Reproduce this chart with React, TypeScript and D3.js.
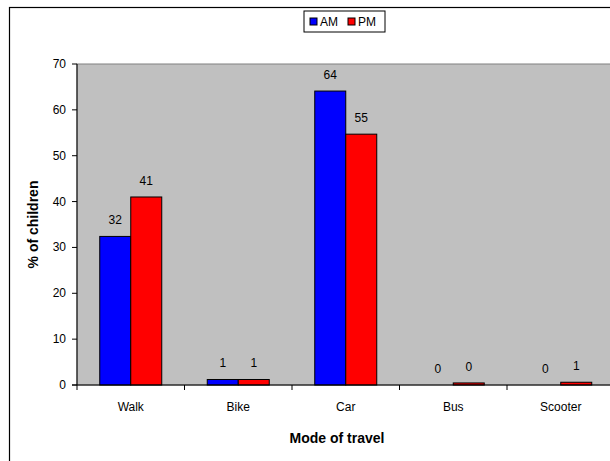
import React from "react";
import * as d3 from "d3";

const WIDTH = 610;
const HEIGHT = 461;

const categories = ["Walk", "Bike", "Car", "Bus", "Scooter"];
const seriesNames = ["AM", "PM"];
const amValues = [32.4, 1.2, 64.1, 0, 0];
const pmValues = [41.0, 1.2, 54.7, 0.45, 0.6];
const yTicks = [0, 10, 20, 30, 40, 50, 60, 70];

const COLORS = ["#0000FF", "#FF0000"];
const FONT = "'Liberation Sans', Arial, sans-serif";

const PLOT_LEFT = 77;
const PLOT_TOP = 64;
const PLOT_BOTTOM = 385;
const CAT_WIDTH = 107.5;
const BAR_WIDTH = 31;

export default function App() {
  const x = d3
    .scaleBand<string>()
    .domain(categories)
    .range([PLOT_LEFT, PLOT_LEFT + CAT_WIDTH * categories.length])
    .padding(0);

  const groupPad = (CAT_WIDTH - BAR_WIDTH * 2) / 2;
  const xInner = d3
    .scaleBand<string>()
    .domain(seriesNames)
    .range([groupPad, CAT_WIDTH - groupPad]);

  const y = d3.scaleLinear().domain([0, 70]).range([PLOT_BOTTOM, PLOT_TOP]);

  const series = [amValues, pmValues];
  const plotRight = PLOT_LEFT + CAT_WIDTH * categories.length;

  return (
    <svg
      width={WIDTH}
      height={HEIGHT}
      style={{ position: "absolute", left: 0, top: 0, background: "#fff" }}
      fontFamily={FONT}
    >
      {/* chart frame, cropped on the right and bottom */}
      <rect x={9.5} y={7.5} width={700} height={600} fill="#fff" stroke="#000" strokeWidth={1.2} />

      {/* plot area */}
      <rect
        x={PLOT_LEFT}
        y={PLOT_TOP}
        width={plotRight - PLOT_LEFT}
        height={PLOT_BOTTOM - PLOT_TOP}
        fill="#C0C0C0"
        stroke="#808080"
        strokeWidth={1}
      />

      {/* bars */}
      {categories.map((c, i) => (
        <g key={c} transform={`translate(${x(c)},0)`}>
          {series.map((vals, s) => {
            const v = vals[i];
            const bx = xInner(seriesNames[s])!;
            const top = y(v);
            return (
              <g key={s}>
                {v > 0 && (
                  <rect
                    x={bx}
                    y={top}
                    width={xInner.bandwidth()}
                    height={PLOT_BOTTOM - top}
                    fill={COLORS[s]}
                    stroke="#000"
                    strokeWidth={1}
                  />
                )}
                <text
                  x={bx + xInner.bandwidth() / 2}
                  y={top - 12}
                  textAnchor="middle"
                  fontSize={12}
                  fill="#000"
                >
                  {Math.round(v)}
                </text>
              </g>
            );
          })}
        </g>
      ))}

      {/* y axis */}
      <line x1={PLOT_LEFT} x2={PLOT_LEFT} y1={PLOT_TOP} y2={PLOT_BOTTOM} stroke="#000" />
      {yTicks.map((t) => (
        <g key={t}>
          <line x1={PLOT_LEFT - 5} x2={PLOT_LEFT} y1={y(t)} y2={y(t)} stroke="#000" />
          <text x={PLOT_LEFT - 11} y={y(t) + 4} textAnchor="end" fontSize={12} fill="#000">
            {t}
          </text>
        </g>
      ))}

      {/* x axis */}
      <line x1={PLOT_LEFT - 5} x2={plotRight} y1={PLOT_BOTTOM} y2={PLOT_BOTTOM} stroke="#000" />
      {categories.map((c) => (
        <g key={c}>
          <line x1={x(c)!} x2={x(c)!} y1={PLOT_BOTTOM} y2={PLOT_BOTTOM + 5} stroke="#000" />
          <text
            x={x(c)! + x.bandwidth() / 2}
            y={PLOT_BOTTOM + 26}
            textAnchor="middle"
            fontSize={12}
            fill="#000"
          >
            {c}
          </text>
        </g>
      ))}

      {/* axis titles */}
      <text x={337} y={443} textAnchor="middle" fontSize={14} fontWeight="bold" fill="#000">
        Mode of travel
      </text>
      <text
        transform={`translate(38,${(PLOT_TOP + PLOT_BOTTOM) / 2}) rotate(-90)`}
        textAnchor="middle"
        fontSize={14}
        fontWeight="bold"
        fill="#000"
      >
        % of children
      </text>

      {/* legend */}
      <g transform="translate(304,11)">
        <rect x={0} y={0} width={81} height={21} fill="#fff" stroke="#000" />
        {seriesNames.map((n, i) => (
          <g key={n} transform={`translate(${6 + i * 38},0)`}>
            <rect x={0} y={7} width={7} height={7} fill={COLORS[i]} stroke="#000" />
            <text x={10} y={15} fontSize={12} fill="#000">
              {n}
            </text>
          </g>
        ))}
      </g>
    </svg>
  );
}
